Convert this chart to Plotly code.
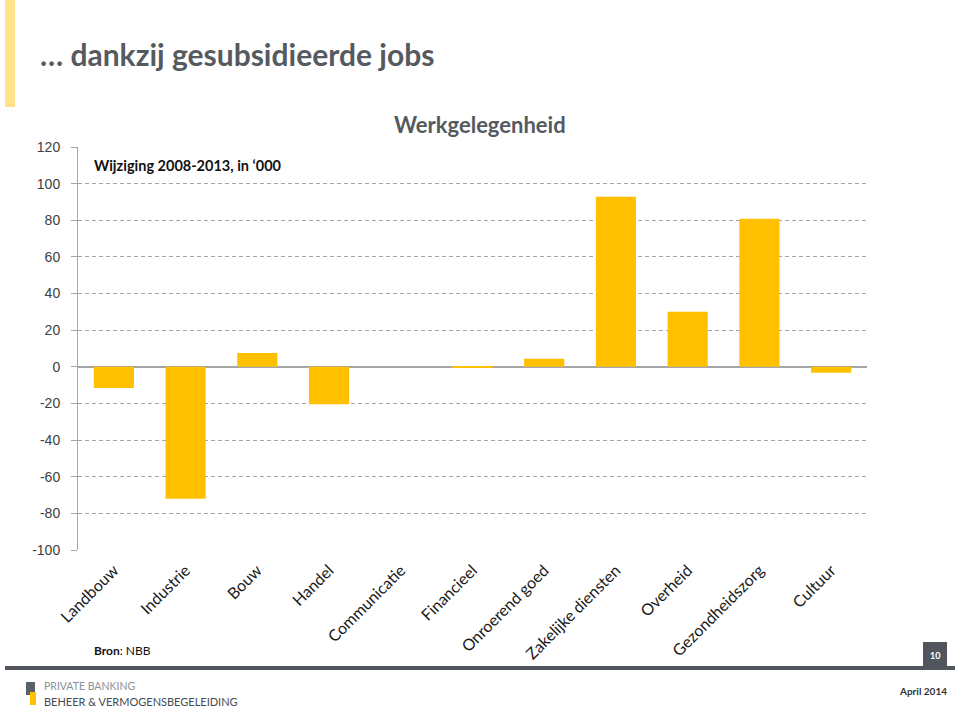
import plotly.graph_objects as go

categories = ["Landbouw", "Industrie", "Bouw", "Handel", "Communicatie", "Financieel",
              "Onroerend goed", "Zakelijke diensten", "Overheid", "Gezondheidszorg", "Cultuur"]
values = [-11.5, -72.0, 7.5, -20.5, 0.0, -0.5, 4.4, 92.8, 30.0, 80.8, -3.3]
y_ticks = [120, 100, 80, 60, 40, 20, 0, -20, -40, -60, -80, -100]

W, H = 960, 708
L, R, T, B = 78, 867, 147, 550
pw, ph = R - L, B - T


def px(x):
    return (x - L) / pw


def py(y):
    return (B - y) / ph


fig = go.Figure()
fig.add_trace(go.Bar(x=categories, y=values, marker=dict(color="#FFC000", line=dict(width=0)),
                     hoverinfo="x+y"))

GRID = "#a6a6a6"
fig.update_layout(
    width=W, height=H,
    margin=dict(l=L, r=W - R, t=T, b=H - B, pad=0),
    paper_bgcolor="white", plot_bgcolor="white",
    showlegend=False, bargap=0.44,
    font=dict(family="Liberation Sans, Arial", color="#404040"),
    xaxis=dict(
        tickangle=-45, tickfont=dict(family="Lato, Open Sans", size=16, color="#1a1a1a"),
        showgrid=False, zeroline=False, showline=False, ticks="",
        range=[-0.5, 10.5], ticklabelstandoff=7,
    ),
    yaxis=dict(
        range=[-100, 120], tickvals=y_ticks, ticktext=[str(v) for v in y_ticks],
        tickfont=dict(family="Liberation Sans, Arial", size=14, color="#404040"),
        showgrid=True, gridcolor=GRID, griddash="4px,3px", gridwidth=1,
        zeroline=True, zerolinecolor="#a6a6a6", zerolinewidth=1.5,
        showline=True, linecolor="#a6a6a6", linewidth=1,
        ticks="outside", ticklen=6, tickcolor=GRID, ticklabelstandoff=8,
    ),
)

shapes = []
# yellow accent bar
shapes.append(dict(type="rect", xref="paper", yref="paper", x0=px(5), x1=px(15), y0=py(107), y1=py(0),
                   fillcolor="#FFE28A", line=dict(width=0), layer="below"))
# footer bar
shapes.append(dict(type="rect", xref="paper", yref="paper", x0=px(5), x1=px(955), y0=py(670), y1=py(666),
                   fillcolor="#50565c", line=dict(width=0)))
# page number box
shapes.append(dict(type="rect", xref="paper", yref="paper", x0=px(923), x1=px(947), y0=py(670), y1=py(642),
                   fillcolor="#50565c", line=dict(width=0)))
# logo icon
shapes.append(dict(type="rect", xref="paper", yref="paper", x0=px(26), x1=px(35), y0=py(695), y1=py(682),
                   fillcolor="#5b6168", line=dict(width=0)))
shapes.append(dict(type="rect", xref="paper", yref="paper", x0=px(30), x1=px(36), y0=py(705), y1=py(692),
                   fillcolor="#FFC000", line=dict(width=0)))
fig.update_layout(shapes=shapes)

ann = []
ann.append(dict(text="… dankzij gesubsidieerde jobs", x=px(38), y=py(54), xanchor="left", yanchor="middle",
                font=dict(family="Lato, Open Sans", size=30, color="#555a5f", weight="bold")))
ann.append(dict(text="<b>Werkgelegenheid</b>", x=px(480), y=py(125), xanchor="center", yanchor="middle",
                font=dict(family="Lato, Open Sans", size=22, color="#555a5f")))
ann.append(dict(text="<b>Wijziging 2008-2013, in ‘000</b>", x=px(92), y=py(165), xanchor="left", yanchor="middle",
                font=dict(family="Lato, Open Sans", size=14.5, color="#111111")))
ann.append(dict(text="<b>Bron</b>: NBB", x=px(92), y=py(650), xanchor="left", yanchor="middle",
                font=dict(family="Lato, Open Sans", size=12, color="#111111")))
ann.append(dict(text="<b>10</b>", x=px(935), y=py(655), xanchor="center", yanchor="middle",
                font=dict(family="Lato, Open Sans", size=9, color="white")))
ann.append(dict(text="PRIVATE BANKING", x=px(42), y=py(686), xanchor="left", yanchor="middle",
                font=dict(family="Lato, Open Sans", size=10.5, color="#8c9196")))
ann.append(dict(text="BEHEER &amp; VERMOGENSBEGELEIDING", x=px(42), y=py(701), xanchor="left", yanchor="middle",
                font=dict(family="Lato, Open Sans", size=11, color="#454b52")))
ann.append(dict(text="<b>April 2014</b>", x=px(949), y=py(691), xanchor="right", yanchor="middle",
                font=dict(family="Lato, Open Sans", size=10, color="#333333")))
for a in ann:
    a.update(xref="paper", yref="paper", showarrow=False)
fig.update_layout(annotations=ann)

fig.write_html("out.html", config={"displayModeBar": False},
               post_script="document.body.style.margin='0';document.body.style.overflow='hidden';")
